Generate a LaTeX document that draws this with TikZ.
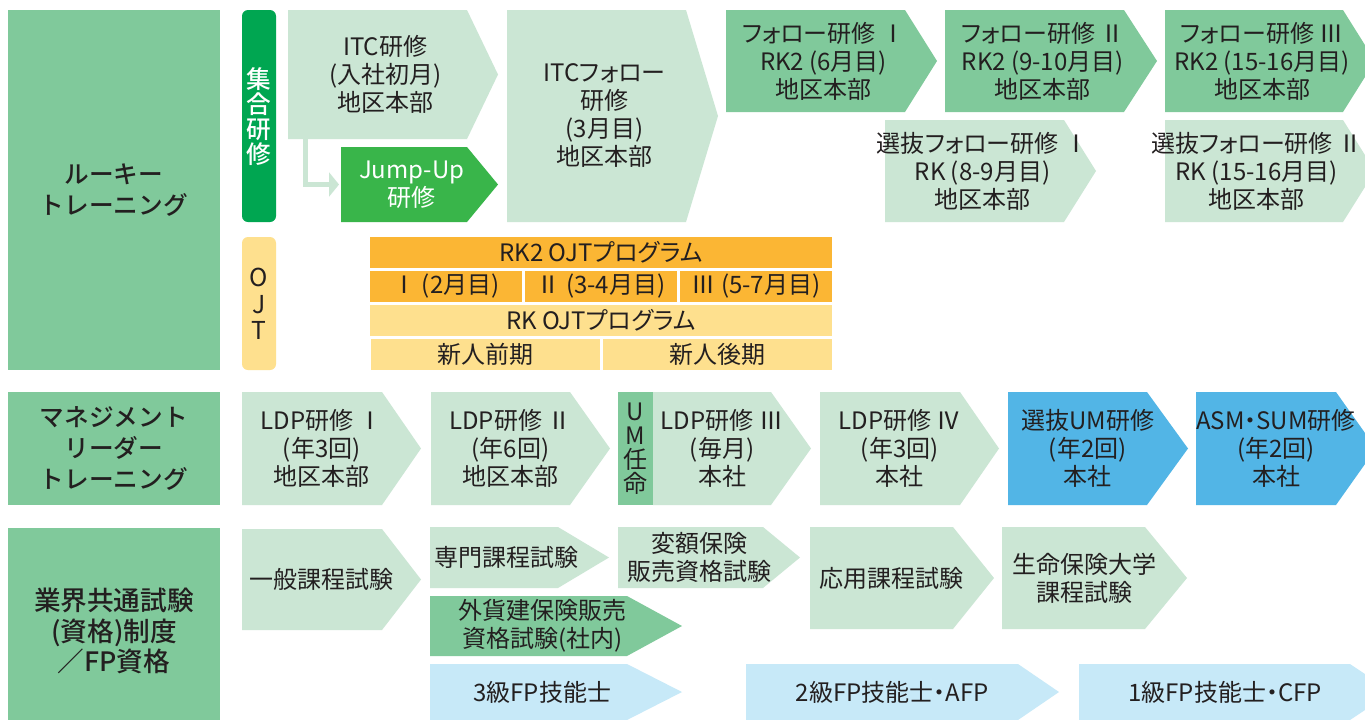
\documentclass[tikz,border=0pt]{standalone}
\usepackage{fontspec}
\setmainfont{Noto Sans CJK JP}[RawFeature={+palt}]
\newfontfamily\medfont{Noto Sans CJK JP Medium}
\usetikzlibrary{arrows.meta}
\definecolor{catg}{RGB}{128,201,155}
\definecolor{lgreen}{RGB}{203,230,212}
\definecolor{dgreen}{RGB}{0,166,81}
\definecolor{jgreen}{RGB}{57,181,74}
\definecolor{orng}{RGB}{251,182,52}
\definecolor{lyel}{RGB}{254,224,142}
\definecolor{blu}{RGB}{82,181,230}
\definecolor{lblu}{RGB}{199,233,248}
\definecolor{textc}{RGB}{35,31,32}
% name, x1, y1, x2, y2, tip x, fill colour, node options, text
\newcommand{\chev}[9]{%
  \fill[#7] (#2,#3) -- (#4,#3) -- (#6,{(#3+#5)/2}) -- (#4,#5) -- (#2,#5) -- cycle;
  \node[txt,#8] (#1) at ({(#2+#4)/2+(#6-#4)/4},{(#3+#5)/2}) {#9};}
% name, x1, y1, x2, y2, fill colour, node options, text
\newcommand{\tcell}[8]{%
  \fill[#6] (#2,#3) rectangle (#4,#5);
  \node[txt,#7] (#1) at ({(#2+#4)/2},{(#3+#5)/2}) {#8};}
\begin{document}
\begin{tikzpicture}[x=0.75pt,y=-0.75pt,
  txt/.style={align=center, text=textc, font=\fontsize{18}{21}\selectfont, inner sep=0pt},
  cattxt/.style={font=\medfont\fontsize{18.5}{23}\selectfont},
  vtxt/.style={font=\medfont\fontsize{18.5}{18.75}\selectfont},
  conn/.style={draw=lgreen, line width=3.75pt, -{Triangle[length=7.5pt,width=18pt]}}]
\useasboundingbox (0,0) rectangle (1365,719);
\fill[white] (0,0) rectangle (1365,719);
\clip (0,0) rectangle (1365,719);

% ---------- Row 1: rookie training ----------
\tcell{cat1}{8}{10}{220}{370}{catg}{cattxt}{ルーキー\\トレーニング}
\fill[dgreen, rounded corners=4.5pt] (242,10) rectangle (276,222);
\node[txt, vtxt, text=white] (bar1) at (259,117) {集\\合\\研\\修};
\fill[lyel, rounded corners=4.5pt] (242,237) rectangle (276,370);
\node[txt, font=\fontsize{18.5}{20}\selectfont] (bar2) at (259,304) {O\\J\\T};

\chev{itc}{288}{10}{467}{139}{498}{lgreen}{}{ITC研修\\(入社初月)\\地区本部}
\chev{jump}{341}{147}{467}{222}{498}{jgreen}{text=white}{Jump-Up\\研修}
\chev{itcf}{507}{10}{686}{222}{718}{lgreen}{}{ITCフォロー\\研修\\(3月目)\\地区本部}
\chev{fol1}{726}{10}{905}{112}{937}{catg}{}{フォロー研修 Ⅰ\\RK2 (6月目)\\地区本部}
\chev{fol2}{945}{10}{1124}{112}{1157}{catg}{}{フォロー研修 Ⅱ\\RK2 (9-10月目)\\地区本部}
\chev{fol3}{1165}{10}{1343}{112}{1375}{catg}{}{フォロー研修 Ⅲ\\RK2 (15-16月目)\\地区本部}
\chev{sel1}{885}{120}{1064}{222}{1096}{lgreen}{}{選抜フォロー研修 Ⅰ\\RK (8-9月目)\\地区本部}
\chev{sel2}{1165}{120}{1343}{222}{1375}{lgreen}{xshift=-4}{選抜フォロー研修 Ⅱ\\RK (15-16月目)\\地区本部}

\coordinate (cfrom) at (305.5,139);
\coordinate (cto) at (339,184.5);
\draw[conn] (cfrom) |- (cto);

% OJT table
\tcell{rk2}{370}{237}{832}{268}{orng}{}{RK2 OJTプログラム}
\tcell{o1}{370}{271}{522}{302}{orng}{}{Ⅰ (2月目)}
\tcell{o2}{525}{271}{677}{302}{orng}{}{Ⅱ (3-4月目)}
\tcell{o3}{680}{271}{832}{302}{orng}{}{Ⅲ (5-7月目)}
\tcell{rk}{370}{305}{832}{336}{lyel}{}{RK OJTプログラム}
\tcell{n1}{371}{339}{600}{370}{lyel}{}{新人前期}
\tcell{n2}{603}{339}{832}{370}{lyel}{}{新人後期}

% ---------- Row 2: management leader training ----------
\tcell{cat2}{8}{392}{220}{505}{catg}{cattxt}{マネジメント\\リーダー\\トレーニング}
\chev{ldp1}{242}{392}{382}{505}{421}{lgreen}{}{LDP研修 Ⅰ\\(年3回)\\地区本部}
\chev{ldp2}{431}{392}{570}{505}{610}{lgreen}{}{LDP研修 Ⅱ\\(年6回)\\地区本部}
\tcell{um}{618}{392}{653}{505}{catg}{font=\fontsize{18}{18}\selectfont}{U\\M\\任\\命}
\chev{ldp3}{653}{392}{771}{505}{811}{lgreen}{}{LDP研修 Ⅲ\\(毎月)\\本社}
\chev{ldp4}{820}{392}{960}{505}{999}{lgreen}{}{LDP研修 Ⅳ\\(年3回)\\本社}
\chev{selum}{1008}{392}{1147}{505}{1188}{blu}{}{選抜UM研修\\(年2回)\\本社}
\chev{asm}{1196}{392}{1336}{505}{1376}{blu}{}{ASM・SUM研修\\(年2回)\\本社}

% ---------- Row 3: exams / FP ----------
\fill[catg] (8,528) rectangle (220,722);
\node[txt, font=\medfont\fontsize{20}{23}\selectfont] (cat3) at (114,631) {業界共通試験\\(資格)制度\\／FP資格};
\chev{ippan}{242}{529}{382}{630}{421}{lgreen}{}{一般課程試験}
\chev{senmon}{430}{527}{558}{588}{609}{lgreen}{}{専門課程試験}
\chev{hengaku}{618}{527}{763}{588}{800}{lgreen}{}{変額保険\\販売資格試験}
\chev{gaika}{430}{596}{627}{656}{682}{catg}{}{外貨建保険販売\\資格試験(社内)}
\chev{fp3}{430}{664}{627}{720}{682}{lblu}{}{3級FP技能士}
\chev{ouyou}{810}{527}{953}{629}{994}{lgreen}{}{応用課程試験}
\chev{daigaku}{1002}{527}{1145}{629}{1187}{lgreen}{}{生命保険大学\\課程試験}
\chev{fp2}{746}{664}{1018}{720}{1059}{lblu}{}{2級FP技能士・AFP}
\chev{fp1}{1079}{664}{1350}{720}{1392}{lblu}{}{1級FP技能士・CFP}
\end{tikzpicture}
\end{document}
